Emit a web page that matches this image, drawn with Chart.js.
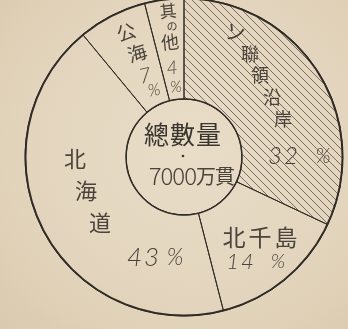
<!DOCTYPE html>
<html>
<head>
<meta charset="utf-8">
<script src="https://cdn.jsdelivr.net/npm/chart.js"></script>
<style>
  html, body { margin: 0; padding: 0; background: #e2d4bb; }
  #wrap {
    width: 348px; height: 329px; position: relative;
    background: radial-gradient(ellipse at 55% 45%, #e9ddc8 0%, #e3d5bd 60%, #dacaae 100%);
  }
</style>
</head>
<body>
<div id="wrap"><canvas id="chart" width="348" height="329"></canvas></div>
<script>
// data (clockwise from the top)
const categories = ["ソ聯領沿岸", "北千島", "北海道", "公海", "其の他"];
const shares = [32, 14, 43, 7, 4];
const centerTitle = "總數量";
const centerNumber = "7000";
const centerUnit = "万貫";

const ink = "#302b26";
const textInk = "#4a433c";
const kanjiFont = '"Noto Sans CJK JP", "Noto Sans CJK SC", sans-serif';
const numFont = 'Lato, "Open Sans", sans-serif';

// where each label character sits, relative to the pie centre
// chars: one [dx, dy, size, rot] per character of the category name
// pct: [dx, dy, size, rot] for the number and for the % sign
const labelLayout = [
  { chars: [[51, -124, 21, 25], [66, -103, 18, 0], [76, -82, 18, 0], [88, -60, 18, 0], [99, -38, 18, 0]],
    pct: [[100, -1, 24, 0], [139, -1, 21, 0]] },
  { chars: [[50, 80, 23, 0], [76, 80, 23, 0], [102, 80, 23, 0]],
    pct: [[57, 105, 22, 0], [94, 105, 20, 0]] },
  { chars: [[-109, 2, 22, 0], [-98, 34, 22, 0], [-84, 66, 22, 0]],
    pct: [[-40, 101, 26, 0], [-9, 101, 23, 0]] },
  { chars: [[-58, -125, 19, -18], [-47, -104, 19, -18]],
    pct: [[-38, -81, 21, -12], [-30, -67, 17, -12]] },
  { chars: [[-16, -146, 17, -6], [-12, -131, 11, -6], [-14, -115, 18, -6]],
    pct: [[-11, -89, 19, -6], [-8, -70, 16, -6]] },
];

function makeHatch(ctx) {
  const s = 8;
  const c = document.createElement("canvas");
  c.width = s;
  c.height = s;
  const g = c.getContext("2d");
  g.strokeStyle = "#6a6057";
  g.lineWidth = 0.9;
  g.beginPath();
  for (const k of [-s, 0, s]) {
    g.moveTo(k, 0);
    g.lineTo(k + s, s);
  }
  g.stroke();
  return ctx.createPattern(c, "repeat");
}

function drawGlyph(ctx, text, x, y, font, rot, spacing, align) {
  ctx.save();
  ctx.translate(x, y);
  ctx.rotate((rot * Math.PI) / 180);
  ctx.font = font;
  ctx.textAlign = align || "center";
  ctx.letterSpacing = (spacing || 0) + "px";
  ctx.fillText(text, 0, 0);
  ctx.restore();
}

const labelPlugin = {
  id: "sliceLabels",
  afterDatasetsDraw(chart) {
    const ctx = chart.ctx;
    const arc = chart.getDatasetMeta(0).data[0];
    const cx = arc.x;
    const cy = arc.y;

    // heavier outer rim and inner disc than the dividing lines
    ctx.save();
    ctx.strokeStyle = ink;
    ctx.lineWidth = 1.9;
    ctx.beginPath();
    ctx.arc(cx, cy, arc.outerRadius - 0.5, 0, Math.PI * 2);
    ctx.stroke();
    ctx.lineWidth = 1.5;
    ctx.beginPath();
    ctx.arc(cx, cy, arc.innerRadius, 0, Math.PI * 2);
    ctx.stroke();
    ctx.restore();

    ctx.save();
    ctx.fillStyle = textInk;
    ctx.textBaseline = "middle";

    categories.forEach((name, i) => {
      const lay = labelLayout[i];
      Array.from(name).forEach((ch, j) => {
        const [dx, dy, size, rot] = lay.chars[j];
        drawGlyph(ctx, ch, cx + dx, cy + dy, `${size}px ${kanjiFont}`, rot);
      });
      const [n, p] = lay.pct;
      drawGlyph(ctx, String(shares[i]), cx + n[0], cy + n[1], `italic 300 ${n[2]}px ${numFont}`, n[3], 2);
      drawGlyph(ctx, "%", cx + p[0], cy + p[1], `italic 300 ${p[2]}px ${numFont}`, p[3]);
    });

    // centre disc text
    ctx.fillStyle = "#3a352f";
    drawGlyph(ctx, centerTitle, cx - 1, cy - 23, `25px ${kanjiFont}`, 0, 1);
    ctx.beginPath();
    ctx.arc(cx - 1, cy - 1, 1.3, 0, Math.PI * 2);
    ctx.fill();
    ctx.fillStyle = textInk;
    drawGlyph(ctx, centerNumber, cx + 12, cy + 19, `300 24px ${kanjiFont}`, 0, -1, "right");
    drawGlyph(ctx, centerUnit, cx + 12, cy + 19, `20px ${kanjiFont}`, 0, -1, "left");
    ctx.restore();
  },
};

const canvas = document.getElementById("chart");
const ctx = canvas.getContext("2d");
const hatch = makeHatch(ctx);

new Chart(canvas, {
  type: "doughnut",
  data: {
    labels: categories,
    datasets: [
      {
        data: shares,
        backgroundColor: [hatch, "rgba(0,0,0,0)", "rgba(0,0,0,0)", "rgba(0,0,0,0)", "rgba(0,0,0,0)"],
        borderColor: ink,
        borderWidth: 1,
        hoverOffset: 0,
      },
    ],
  },
  options: {
    responsive: false,
    animation: false,
    radius: 159,
    cutout: 57,
    layout: { padding: { left: 20, right: 0, top: 0, bottom: 15 } },
    plugins: {
      legend: { display: false },
      tooltip: { enabled: false },
    },
  },
  plugins: [labelPlugin],
});
</script>
</body>
</html>
